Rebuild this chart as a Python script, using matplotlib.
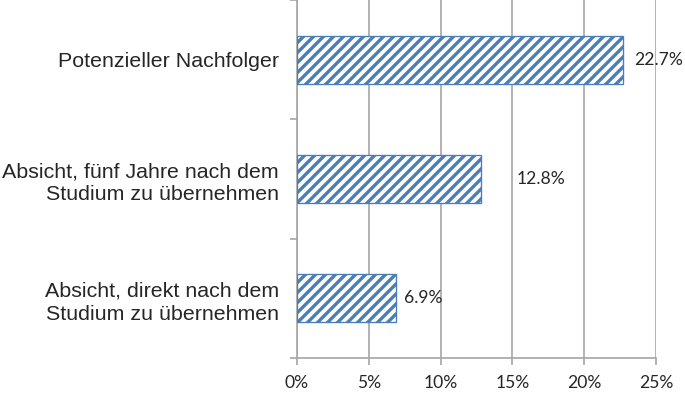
"""
Horizontal bar chart: Nachfolge-Absicht (hatched bars, percentage labels).
"""

import matplotlib
matplotlib.use("Agg")
import matplotlib.pyplot as plt
from matplotlib.ticker import FuncFormatter

# ── Data ──────────────────────────────────────────────────────────────────────
categories = [
    "Absicht, direkt nach dem\nStudium zu übernehmen",
    "Absicht, fünf Jahre nach dem\nStudium zu übernehmen",
    "Potenzieller Nachfolger",
]
values = [6.9, 12.8, 22.7]          # percent
x_ticks = [0, 5, 10, 15, 20, 25]

# ── Style ─────────────────────────────────────────────────────────────────────
BLUE = "#4a7ebb"
GRID = "#a6a6a6"
TEXT = "#262626"

plt.rcParams["hatch.linewidth"] = 2.0
plt.rcParams["hatch.color"] = BLUE

DPI = 120
fig = plt.figure(figsize=(685 / DPI, 397 / DPI), dpi=DPI)
ax = fig.add_axes([297 / 685, 1 - 358 / 397, (656 - 297) / 685, 358 / 397])

y_pos = list(range(len(categories)))
bars = ax.barh(y_pos, values, height=0.4, color="white", edgecolor=BLUE,
               linewidth=0.8, hatch="////", zorder=3)

# value labels (Excel put the middle one further out)
label_pad = [8, 36, 11]
for bar, val, pad in zip(bars, values, label_pad):
    ax.annotate(f"{val:.1f}%", (bar.get_width(), bar.get_y() + bar.get_height() / 2),
                xytext=(pad * 72 / DPI, 0), textcoords="offset points",
                va="center", ha="left", fontsize=10.5, family="Lato",
                color=TEXT, zorder=4)

ax.set_xlim(0, 25)
ax.set_ylim(-0.5, len(categories) - 0.5)
ax.set_xticks(x_ticks)
ax.xaxis.set_major_formatter(FuncFormatter(lambda v, _: f"{v:.0f}%"))
for lab in ax.get_xticklabels():
    lab.set_family("Lato")
    lab.set_fontsize(10.5)
    lab.set_color(TEXT)

ax.set_yticks(y_pos)
ax.set_yticklabels(categories, fontsize=12.85, family="Liberation Sans",
                   color=TEXT, ha="right", linespacing=1.3)
ax.set_yticks([-0.5, 0.5, 1.5, 2.5], minor=True)

ax.tick_params(axis="y", which="major", length=0, pad=10.8)
ax.tick_params(axis="y", which="minor", length=4, width=1.0, color=GRID)
ax.tick_params(axis="x", which="major", length=4, width=1.0, color=GRID, pad=6)

ax.grid(axis="x", color=GRID, linewidth=1.0, zorder=0)
ax.set_axisbelow(True)
for side in ("top", "right"):
    ax.spines[side].set_visible(False)
for side in ("left", "bottom"):
    ax.spines[side].set_color(GRID)
    ax.spines[side].set_linewidth(1.0)

fig.savefig("out.png", dpi=DPI)
